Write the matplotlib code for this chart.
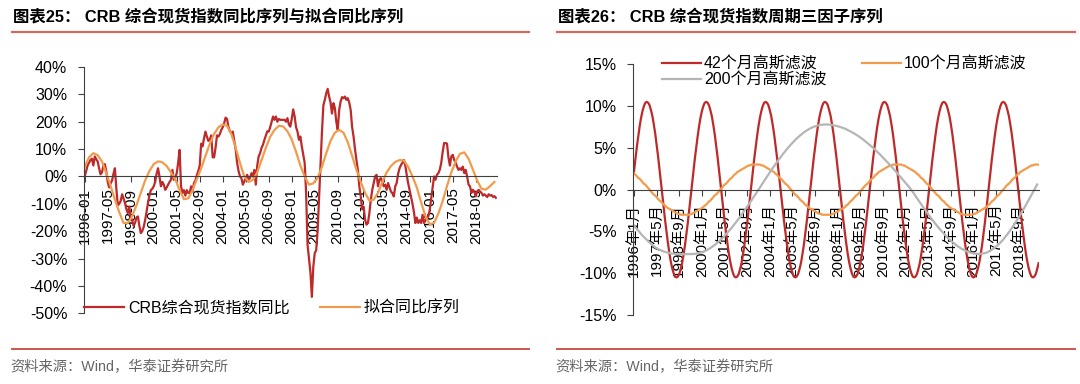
import numpy as np
import matplotlib.pyplot as plt
from matplotlib.lines import Line2D
from matplotlib.ticker import FuncFormatter

plt.rcParams['font.family'] = ['Liberation Sans', 'Noto Sans CJK SC', 'DejaVu Sans']

# 月度数据 1996-01 ... 2019-11
crb_yoy = [
    0, 2, 4, 5, 6, 6.5, 4, 7.3, 6.3, 5.5,
    3, 0.8, 1.5, 4, 4.5, 1.8, -2, -4, -2.5, -1.5,
    1, 3, -4.5, -10.5, -10, -9, -6.5, -8, -9.7, -12,
    -13.4, -11, -15, -16, -18, -17, -15, -14.6, -18, -20.7,
    -20, -18.5, -16, -13, -9.7, -7, -5, -4.5, -3.6, -2,
    1, 3, 0, -3.6, -2, -3, -4.9, -4, -3, -2,
    -1.2, 2.4, -1.2, -0.5, 1.2, 5, 9.7, -3.6, -6, -5,
    -7, -5, -6, -6, -3.6, -5.5, -2.4, -1.5, 0.5, 2,
    4, 12, 11, 14, 16.4, 14.5, 13, 13.5, 15, 7,
    7, 10.5, 15, 14.6, 15.5, 17, 18, 19.5, 21.5, 21,
    18, 16.5, 15.8, 16.4, 13, 10, 5, 2, 0, -0.6,
    -3, -1.8, -0.6, 0.6, -1, -0.5, 1.2, 0, 2.4, -3,
    4, 7.3, 8.5, 10.5, 11.6, 13.4, 15, 16.5, 16.4, 18,
    20, 21.9, 20.7, 21.9, 20, 21, 20.7, 20.7, 20.7, 20.7,
    20, 21.3, 19, 18.2, 21, 24.5, 22, 18, 16.4, 13.4,
    14.6, 11, 8, 5, -6, -25, -30, -35, -44, -33,
    -28, -27, -20, -8, 4, 16, 26, 28, 30.4, 32,
    29.2, 27, 23, 26.8, 25, 20, 17, 24.3, 27.4, 29,
    28.6, 29.2, 28, 28.6, 27, 24.3, 18, 14.6, 10, 6,
    2.4, -3.6, -7.3, -12, -11, -15.8, -17.6, -17, -13.4, -8.5,
    -4.9, -2.4, 0, 0.6, -3.6, -1.2, -0.6, -2, -3.6, -3,
    -4.9, -2.4, -4, -5.5, -6.1, -7.3, -3.6, -2.4, 1, 3,
    4.2, 5, 6, 4, 0.5, -2.5, -5, -7.5, -10, -13,
    -17, -15, -17, -16, -17, -14, -17, -16, -15, -14.6,
    -12.2, -8, -4, 0, -1.2, 0.6, 1.2, 2.5, 5, 9,
    12.2, 12.2, 12, 7, 4, 7.3, 7.9, 6.1, 5, 3.6,
    2.4, 3, 2.4, 3.6, 1.2, 2.4, 0, -3, -3.6, -6,
    -4.9, -5.5, -7.3, -5.5, -4.9, -5.5, -6, -7, -6.5, -7,
    -7.5, -6.5, -7, -6.8, -7.5, -7.2, -7.8,
]

# 拟合序列，每3个月读一个点
fit_yoy = [
    3.5, 7, 8.5, 7.8, 5.5, 1.2, -3.5, -8.5, -13, -17,
    -17, -14.5, -10.5, -6, -1.5, 2, 4.5, 5.5, 5.2, 3.8,
    1.5, -1, -5, -8.3, -8, -5, -1, 3, 7.5, 12,
    15.5, 18, 19, 18.5, 15.5, 10.5, 5, 0, -2, -1.2,
    1.5, 6, 10.5, 14.5, 17, 18.5, 18.3, 16.5, 13.5, 9,
    4, 0, -3, -2.5, -0.5, 3.5, 8.5, 13, 16, 17,
    16, 12.5, 7.5, 2.5, -2, -6, -8.8, -8.5, -6, -2,
    1.5, 3.8, 5.3, 6, 5.8, 3.5, 0, -4, -9.5, -14.5,
    -17.5, -17, -13.5, -9, -3.5, 1.5, 5.5, 8.3, 8.8, 6.5,
    2.5, -1.5, -4.5, -4.8, -3.5, -2,
]

cycle_42 = [
    2.2, 3.7, 5.1, 6.4, 7.6, 8.6, 9.4, 10.0, 10.4, 10.5, 10.4, 10.1, 9.5, 8.8, 7.8, 6.7, 5.4, 4.0, 2.5, 0.9, -0.6,
    -2.2, -3.7, -5.1, -6.4, -7.6, -8.6, -9.4, -10.0, -10.4, -10.5, -10.4, -10.1, -9.5, -8.8, -7.8, -6.7, -5.4, -4.0, -2.5, -0.9, 0.6,
    2.2, 3.7, 5.1, 6.4, 7.6, 8.6, 9.4, 10.0, 10.4, 10.5, 10.4, 10.1, 9.5, 8.8, 7.8, 6.7, 5.4, 4.0, 2.5, 0.9, -0.6,
    -2.2, -3.7, -5.1, -6.4, -7.6, -8.6, -9.4, -10.0, -10.4, -10.5, -10.4, -10.1, -9.5, -8.8, -7.8, -6.7, -5.4, -4.0, -2.5, -0.9, 0.6,
    2.2, 3.7, 5.1, 6.4, 7.6, 8.6, 9.4, 10.0, 10.4, 10.5, 10.4, 10.1, 9.5, 8.8, 7.8, 6.7, 5.4, 4.0, 2.5, 0.9, -0.6,
    -2.2, -3.7, -5.1, -6.4, -7.6, -8.6, -9.4, -10.0, -10.4, -10.5, -10.4, -10.1, -9.5, -8.8, -7.8, -6.7, -5.4, -4.0, -2.5, -0.9, 0.6,
    2.2, 3.7, 5.1, 6.4, 7.6, 8.6, 9.4, 10.0, 10.4, 10.5, 10.4, 10.1, 9.5, 8.8, 7.8, 6.7, 5.4, 4.0, 2.5, 0.9, -0.6,
    -2.2, -3.7, -5.1, -6.4, -7.6, -8.6, -9.4, -10.0, -10.4, -10.5, -10.4, -10.1, -9.5, -8.8, -7.8, -6.7, -5.4, -4.0, -2.5, -0.9, 0.6,
    2.2, 3.7, 5.1, 6.4, 7.6, 8.6, 9.4, 10.0, 10.4, 10.5, 10.4, 10.1, 9.5, 8.8, 7.8, 6.7, 5.4, 4.0, 2.5, 0.9, -0.6,
    -2.2, -3.7, -5.1, -6.4, -7.6, -8.6, -9.4, -10.0, -10.4, -10.5, -10.4, -10.1, -9.5, -8.8, -7.8, -6.7, -5.4, -4.0, -2.5, -0.9, 0.6,
    2.2, 3.7, 5.1, 6.4, 7.6, 8.6, 9.4, 10.0, 10.4, 10.5, 10.4, 10.1, 9.5, 8.8, 7.8, 6.7, 5.4, 4.0, 2.5, 0.9, -0.6,
    -2.2, -3.7, -5.1, -6.4, -7.6, -8.6, -9.4, -10.0, -10.4, -10.5, -10.4, -10.1, -9.5, -8.8, -7.8, -6.7, -5.4, -4.0, -2.5, -0.9, 0.6,
    2.2, 3.7, 5.1, 6.4, 7.6, 8.6, 9.4, 10.0, 10.4, 10.5, 10.4, 10.1, 9.5, 8.8, 7.8, 6.7, 5.4, 4.0, 2.5, 0.9, -0.6,
    -2.2, -3.7, -5.1, -6.4, -7.6, -8.6, -9.4, -10.0, -10.4, -10.5, -10.4, -10.1, -9.5, -8.8,
]

cycle_100 = [
    1.9, 1.8, 1.6, 1.4, 1.3, 1.1, 0.9, 0.7, 0.6, 0.4, 0.2, 0.0, -0.2, -0.4, -0.6, -0.7, -0.9, -1.1, -1.3, -1.4,
    -1.6, -1.8, -1.9, -2.1, -2.2, -2.3, -2.4, -2.5, -2.6, -2.7, -2.8, -2.9, -2.9, -3.0, -3.0, -3.0, -3.0,
    -3.0, -3.0, -3.0, -2.9, -2.9, -2.8, -2.7, -2.6, -2.5, -2.4, -2.3, -2.2, -2.1, -1.9, -1.8, -1.6, -1.4, -1.3, -1.1, -0.9,
    -0.7, -0.6, -0.4, -0.2, 0.0, 0.2, 0.4, 0.6, 0.7, 0.9, 1.1, 1.3, 1.4, 1.6, 1.8, 1.9, 2.1, 2.2, 2.3, 2.4,
    2.5, 2.6, 2.7, 2.8, 2.9, 2.9, 3.0, 3.0, 3.0, 3.0,
    3.0, 3.0, 3.0, 2.9, 2.9, 2.8, 2.7, 2.6, 2.5, 2.4, 2.3, 2.2, 2.1, 1.9, 1.8, 1.6, 1.4, 1.3, 1.1, 0.9,
    0.7, 0.6, 0.4, 0.2, 0.0, -0.2, -0.4, -0.6, -0.7, -0.9, -1.1, -1.3, -1.4, -1.6, -1.8, -1.9, -2.1, -2.2, -2.3, -2.4,
    -2.5, -2.6, -2.7, -2.8, -2.9, -2.9, -3.0, -3.0, -3.0, -3.0,
    -3.0, -3.0, -3.0, -2.9, -2.9, -2.8, -2.7, -2.6, -2.5, -2.4, -2.3, -2.2, -2.1, -1.9, -1.8, -1.6, -1.4, -1.3, -1.1, -0.9,
    -0.7, -0.6, -0.4, -0.2, 0.0, 0.2, 0.4, 0.6, 0.7, 0.9, 1.1, 1.3, 1.4, 1.6, 1.8, 1.9, 2.1, 2.2, 2.3, 2.4,
    2.5, 2.6, 2.7, 2.8, 2.9, 2.9, 3.0, 3.0, 3.0, 3.0,
    3.0, 3.0, 3.0, 2.9, 2.9, 2.8, 2.7, 2.6, 2.5, 2.4, 2.3, 2.2, 2.1, 1.9, 1.8, 1.6, 1.4, 1.3, 1.1, 0.9,
    0.7, 0.6, 0.4, 0.2, 0.0, -0.2, -0.4, -0.6, -0.7, -0.9, -1.1, -1.3, -1.4, -1.6, -1.8, -1.9, -2.1, -2.2, -2.3, -2.4,
    -2.5, -2.6, -2.7, -2.8, -2.9, -2.9, -3.0, -3.0, -3.0, -3.0,
    -3.0, -3.0, -3.0, -2.9, -2.9, -2.8, -2.7, -2.6, -2.5, -2.4, -2.3, -2.2, -2.1, -1.9, -1.8, -1.6, -1.4, -1.3, -1.1, -0.9,
    -0.7, -0.6, -0.4, -0.2, 0.0, 0.2, 0.4, 0.6, 0.7, 0.9, 1.1, 1.3, 1.4, 1.6, 1.8, 1.9, 2.1, 2.2, 2.3, 2.4,
    2.5, 2.6, 2.7, 2.8, 2.9, 2.9, 3.0, 3.0, 3.0, 3.0,
]

# 200个月滤波，每3个月读一个点
cycle_200 = [
    -4.3, -4.9, -5.5, -6.0, -6.5, -6.9, -7.2, -7.4, -7.55, -7.65, -7.7, -7.72, -7.72, -7.71,
    -7.7, -7.63, -7.49, -7.28, -6.98, -6.63, -6.2, -5.71, -5.16, -4.57, -3.92, -3.24, -2.52, -1.78, -1.03, -0.26,
    0.52, 1.3, 2.06, 2.81, 3.52, 4.2, 4.83, 5.42, 5.96, 6.43, 6.84, 7.18, 7.45, 7.64, 7.76, 7.8,
    7.78, 7.71, 7.59, 7.43, 7.23, 6.97, 6.69, 6.36, 5.99, 5.58, 5.15, 4.68, 4.19, 3.66, 3.12, 2.57, 1.99, 1.4, 0.8, 0.2,
    -0.5, -1.26, -1.99, -2.71, -3.41, -4.07, -4.69, -5.26, -5.79, -6.26, -6.67, -7.01, -7.29, -7.5, -7.64, -7.69,
    -7.67, -7.55, -7.3, -6.95, -6.51, -5.97, -5.33, -4.62, -3.85, -3.02, -2.15, -1.23, -0.31, 0.62,
]

ticks_left = ['1996-01', '1997-05', '1998-09', '2000-01', '2001-05', '2002-09', '2004-01', '2005-05', '2006-09',
              '2008-01', '2009-05', '2010-09', '2012-01', '2013-05', '2014-09', '2016-01', '2017-05', '2018-09']
ticks_right = ['1996年1月', '1997年5月', '1998年9月', '2000年1月', '2001年5月', '2002年9月', '2004年1月', '2005年5月',
               '2006年9月', '2008年1月', '2009年5月', '2010年9月', '2012年1月', '2013年5月', '2014年9月', '2016年1月',
               '2017年5月', '2018年9月']

RED = '#BE2A2A'
ORANGE = '#F29B4C'
GRAY = '#B5B5B5'
LINE = '#D46A5E'
AXC = '#404040'

n = len(crb_yoy)
x = np.arange(n)
x3 = np.arange(0, n, 3)[:len(fit_yoy)]
tick_pos = np.arange(0, n, 16)[:len(ticks_left)]

fig = plt.figure(figsize=(10.8, 3.84), dpi=100)
W, H = 1080, 384

ax1 = fig.add_axes([84 / W, 1 - 313.3 / H, 412.6 / W, 246.3 / H])
ax2 = fig.add_axes([633.3 / W, 1 - 315 / H, 406 / W, 250.7 / H])

ax1.plot(x, crb_yoy, color=RED, lw=1.6, label='CRB综合现货指数同比')
ax1.plot(x3, fit_yoy, color=ORANGE, lw=1.6, label='拟合同比序列')
ax1.set_ylim(-50, 40)
ax1.set_yticks(np.arange(-50, 41, 10))

ax2.plot(x, cycle_42, color=RED, lw=1.6, label='42个月高斯滤波')
ax2.plot(x, cycle_100, color=ORANGE, lw=1.6, label='100个月高斯滤波')
ax2.plot(x3[:len(cycle_200)], cycle_200, color=GRAY, lw=1.6, label='200个月高斯滤波')
ax2.set_ylim(-15, 15)
ax2.set_yticks(np.arange(-15, 16, 5))

for ax, labels in [(ax1, ticks_left), (ax2, ticks_right)]:
    ax.set_xlim(-0.5, n - 0.5)
    ax.spines['top'].set_visible(False)
    ax.spines['right'].set_visible(False)
    ax.spines['bottom'].set_position(('data', 0))
    ax.spines['bottom'].set_color(AXC)
    ax.spines['left'].set_color(AXC)
    ax.spines['bottom'].set_linewidth(0.8)
    ax.spines['left'].set_linewidth(0.8)
    ax.set_xticks(tick_pos)
    ax.set_xticklabels(labels, rotation=90, fontsize=11)
    ax.tick_params(axis='x', direction='out', length=4, width=0.8, color=AXC, pad=4)
    ax.tick_params(axis='y', direction='out', length=4, width=0.8, color=AXC, pad=8, labelsize=11.5)
    ax.yaxis.set_major_formatter(FuncFormatter(lambda v, p: f'{v:.0f}%'))
    ax.patch.set_alpha(0)

ax2.tick_params(axis='x', pad=6)

leg1 = ax1.legend(loc='center left', bbox_to_anchor=(84 / W, 1 - 308 / H), bbox_transform=fig.transFigure,
                  ncol=2, frameon=False, fontsize=11.5, handlelength=2.5, handletextpad=0.25,
                  columnspacing=1.9, borderpad=0, borderaxespad=0)

h, l = ax2.get_legend_handles_labels()
order = [0, 2, 1]
ax2.legend([h[i] for i in order], [l[i] for i in order], loc='center left',
           bbox_to_anchor=(661.7 / W, 1 - 71.7 / H), bbox_transform=fig.transFigure,
           ncol=2, frameon=False, fontsize=11.5, handlelength=2.45, handletextpad=0.2,
           columnspacing=2.2, labelspacing=0.05, borderpad=0, borderaxespad=0)

# 标题、分隔线、资料来源
fig.text(13 / W, 1 - 17 / H, '图表25： CRB 综合现货指数同比序列与拟合同比序列', fontsize=11.8, fontweight='bold',
         va='center', ha='left')
fig.text(558 / W, 1 - 17 / H, '图表26： CRB 综合现货指数周期三因子序列', fontsize=11.8, fontweight='bold',
         va='center', ha='left')
for x0, x1 in [(12, 529), (557, 1075)]:
    fig.add_artist(Line2D([x0 / W, x1 / W], [1 - 32 / H, 1 - 32 / H], color=LINE, lw=1.6))
    fig.add_artist(Line2D([x0 / W, x1 / W], [1 - 349 / H, 1 - 349 / H], color='#C9574B', lw=1.4))
    fig.text((x0 - 2) / W, 1 - 367 / H, '资料来源：Wind，华泰证券研究所', fontsize=10.3, color='#666666',
             va='center', ha='left')

fig.savefig('out.png', dpi=100, facecolor='white')
